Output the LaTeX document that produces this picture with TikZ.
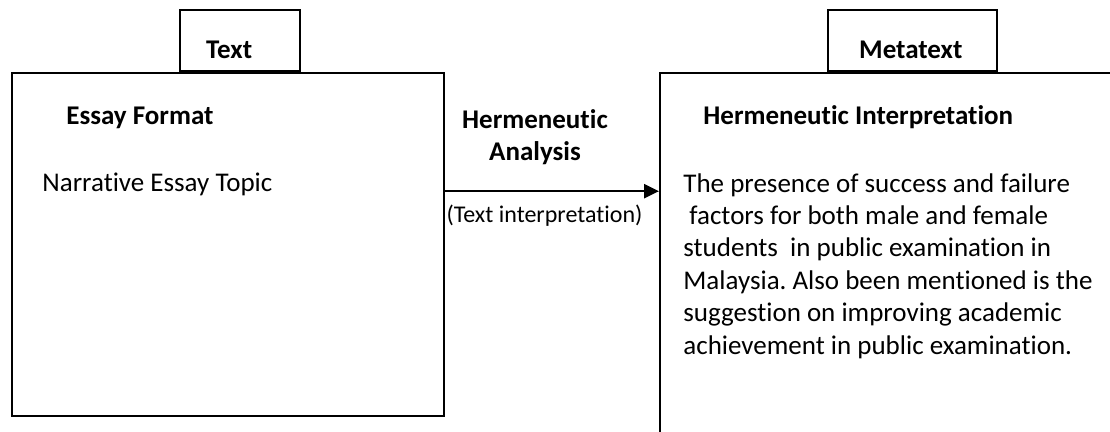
\documentclass[tikz,border=0pt]{standalone}
\usepackage{fontspec}
\setmainfont{Carlito}[Ligatures=NoCommon]
\usetikzlibrary{arrows.meta, positioning, calc}
\frenchspacing

\begin{document}
\begin{tikzpicture}[
    x=0.5pt, y=-0.5pt,
    every node/.style={font=\fontsize{13.5}{16.2}\selectfont},
    box/.style={
        rectangle,
        draw=black,
        line width=1.2pt,
        anchor=north west,
        inner sep=0pt
    },
    tab/.style={
        rectangle,
        draw=black,
        line width=1.2pt,
        anchor=south west,
        inner ysep=0pt,
        text height=24.5pt,
        text depth=6pt,
        align=left,
        font=\fontsize{13.5}{16.2}\selectfont\bfseries
    },
    heading/.style={
        anchor=base west,
        inner sep=0pt,
        font=\fontsize{13.5}{16.2}\selectfont\bfseries
    },
    body/.style={
        anchor=base west,
        inner sep=0pt
    },
    myarrow/.style={
        -{Triangle[length=7.5pt, width=7pt]},
        line width=1.2pt,
        draw=black
    }
]
\clip (0,0) rectangle (1110,432);

% Boxes
\node[box, minimum width=216pt, minimum height=171.5pt] (essay) at (11,72) {};
\node[box, minimum width=233pt, minimum height=186.5pt] (meta) at (659,72) {};

% Tabs on top
\node[tab, inner xsep=13pt, text width=34pt] (texttab) at (179,72) {Text};
\node[tab, inner xsep=15.5pt, text width=53.5pt] (metatab) at (827,72) {Metatext};

% Left box contents
\node[heading] (format) at (66,125) {Essay Format};
\node[body] (topic) at (42,192) {Narrative Essay Topic};

% Right box contents
\node[heading] (interp) at (703,125) {Hermeneutic Interpretation};
\node[body, anchor=north west, align=left] (finding) at (683,173) {The presence of success and failure\\
\hspace*{3pt}factors for both male and female\\
students\ \ in public examination in\\
Malaysia. Also been mentioned is the\\
suggestion on improving academic\\
achievement in public examination.};

% Arrow between boxes
\coordinate (linkstart) at ([yshift=26.75pt]essay.east);
\draw[myarrow] (linkstart) -- (linkstart -| meta.west);

% Labels
\node[heading, anchor=north, align=center] (analysis) at (535,109) {Hermeneutic\\Analysis};
\node[body, anchor=base, font=\fontsize{12}{14}\selectfont] (textinterp) at (544.5,223) {(Text interpretation)};

\end{tikzpicture}
\end{document}
